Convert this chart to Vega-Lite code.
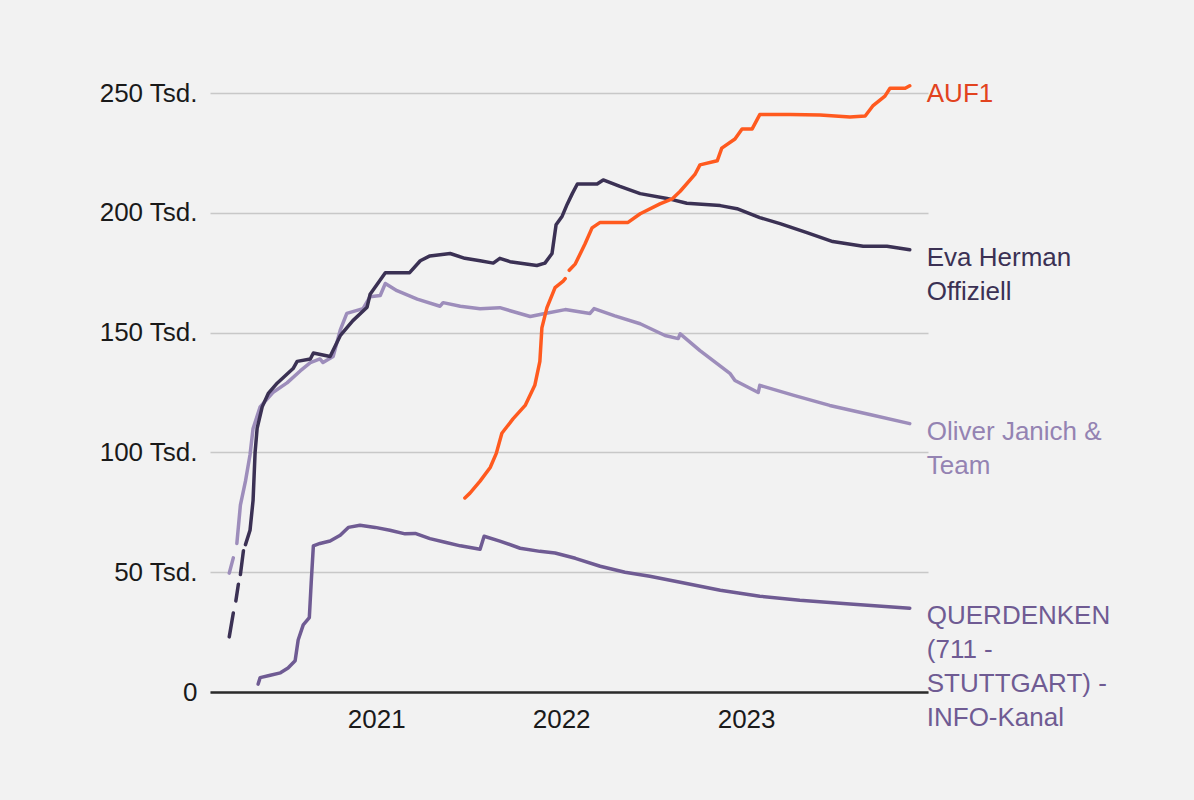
{
  "$schema": "https://vega.github.io/schema/vega-lite/v6.json",
  "width": 718,
  "height": 599,
  "autosize": {"type": "none"},
  "padding": {"left": 210, "top": 93, "right": 266, "bottom": 108},
  "background": "#f2f2f2",
  "config": {"view": {"stroke": null}, "font": "Liberation Sans"},
  "datasets": {
    "labels": [
      {"channel": "AUF1", "label": "AUF1"},
      {"channel": "Eva Herman Offiziell", "label": "Eva Herman\nOffiziell"},
      {"channel": "Oliver Janich & Team", "label": "Oliver Janich &\nTeam"},
      {"channel": "QUERDENKEN (711 - STUTTGART) - INFO-Kanal", "label": "QUERDENKEN\n(711 -\nSTUTTGART) -\nINFO-Kanal"}
    ]
  },
  "data": {
    "format": {"parse": {"date": "date"}},
    "values": [
      {"channel": "QUERDENKEN (711 - STUTTGART) - INFO-Kanal", "date": "2020-05-13", "value": 3300},
      {"channel": "QUERDENKEN (711 - STUTTGART) - INFO-Kanal", "date": "2020-05-17", "value": 6000},
      {"channel": "QUERDENKEN (711 - STUTTGART) - INFO-Kanal", "date": "2020-06-06", "value": 7000},
      {"channel": "QUERDENKEN (711 - STUTTGART) - INFO-Kanal", "date": "2020-06-26", "value": 8000},
      {"channel": "QUERDENKEN (711 - STUTTGART) - INFO-Kanal", "date": "2020-07-11", "value": 10000},
      {"channel": "QUERDENKEN (711 - STUTTGART) - INFO-Kanal", "date": "2020-07-25", "value": 13000},
      {"channel": "QUERDENKEN (711 - STUTTGART) - INFO-Kanal", "date": "2020-07-31", "value": 21700},
      {"channel": "QUERDENKEN (711 - STUTTGART) - INFO-Kanal", "date": "2020-08-10", "value": 28000},
      {"channel": "QUERDENKEN (711 - STUTTGART) - INFO-Kanal", "date": "2020-08-22", "value": 31000},
      {"channel": "QUERDENKEN (711 - STUTTGART) - INFO-Kanal", "date": "2020-08-26", "value": 46700},
      {"channel": "QUERDENKEN (711 - STUTTGART) - INFO-Kanal", "date": "2020-08-30", "value": 61000},
      {"channel": "QUERDENKEN (711 - STUTTGART) - INFO-Kanal", "date": "2020-09-12", "value": 62000},
      {"channel": "QUERDENKEN (711 - STUTTGART) - INFO-Kanal", "date": "2020-10-02", "value": 63000},
      {"channel": "QUERDENKEN (711 - STUTTGART) - INFO-Kanal", "date": "2020-10-22", "value": 65400},
      {"channel": "QUERDENKEN (711 - STUTTGART) - INFO-Kanal", "date": "2020-11-07", "value": 68700},
      {"channel": "QUERDENKEN (711 - STUTTGART) - INFO-Kanal", "date": "2020-11-30", "value": 69600},
      {"channel": "QUERDENKEN (711 - STUTTGART) - INFO-Kanal", "date": "2020-12-30", "value": 68700},
      {"channel": "QUERDENKEN (711 - STUTTGART) - INFO-Kanal", "date": "2021-01-28", "value": 67500},
      {"channel": "QUERDENKEN (711 - STUTTGART) - INFO-Kanal", "date": "2021-02-27", "value": 66000},
      {"channel": "QUERDENKEN (711 - STUTTGART) - INFO-Kanal", "date": "2021-03-19", "value": 66200},
      {"channel": "QUERDENKEN (711 - STUTTGART) - INFO-Kanal", "date": "2021-04-17", "value": 64000},
      {"channel": "QUERDENKEN (711 - STUTTGART) - INFO-Kanal", "date": "2021-05-17", "value": 62500},
      {"channel": "QUERDENKEN (711 - STUTTGART) - INFO-Kanal", "date": "2021-06-16", "value": 61000},
      {"channel": "QUERDENKEN (711 - STUTTGART) - INFO-Kanal", "date": "2021-07-25", "value": 59600},
      {"channel": "QUERDENKEN (711 - STUTTGART) - INFO-Kanal", "date": "2021-08-02", "value": 65000},
      {"channel": "QUERDENKEN (711 - STUTTGART) - INFO-Kanal", "date": "2021-09-02", "value": 63000},
      {"channel": "QUERDENKEN (711 - STUTTGART) - INFO-Kanal", "date": "2021-10-12", "value": 60000},
      {"channel": "QUERDENKEN (711 - STUTTGART) - INFO-Kanal", "date": "2021-11-20", "value": 58700},
      {"channel": "QUERDENKEN (711 - STUTTGART) - INFO-Kanal", "date": "2021-12-20", "value": 58000},
      {"channel": "QUERDENKEN (711 - STUTTGART) - INFO-Kanal", "date": "2022-01-29", "value": 55800},
      {"channel": "QUERDENKEN (711 - STUTTGART) - INFO-Kanal", "date": "2022-03-19", "value": 52500},
      {"channel": "QUERDENKEN (711 - STUTTGART) - INFO-Kanal", "date": "2022-05-07", "value": 50000},
      {"channel": "QUERDENKEN (711 - STUTTGART) - INFO-Kanal", "date": "2022-06-25", "value": 48300},
      {"channel": "QUERDENKEN (711 - STUTTGART) - INFO-Kanal", "date": "2022-08-24", "value": 45800},
      {"channel": "QUERDENKEN (711 - STUTTGART) - INFO-Kanal", "date": "2022-11-11", "value": 42500},
      {"channel": "QUERDENKEN (711 - STUTTGART) - INFO-Kanal", "date": "2023-01-28", "value": 40000},
      {"channel": "QUERDENKEN (711 - STUTTGART) - INFO-Kanal", "date": "2023-04-17", "value": 38300},
      {"channel": "QUERDENKEN (711 - STUTTGART) - INFO-Kanal", "date": "2023-07-25", "value": 36700},
      {"channel": "QUERDENKEN (711 - STUTTGART) - INFO-Kanal", "date": "2023-11-20", "value": 35000},

      {"channel": "Oliver Janich & Team", "date": "2020-03-17", "value": 49600},
      {"channel": "Oliver Janich & Team", "date": "2020-03-25", "value": 56000},
      {"channel": "Oliver Janich & Team", "date": "2020-03-28", "value": null},
      {"channel": "Oliver Janich & Team", "date": "2020-04-01", "value": 62000},
      {"channel": "Oliver Janich & Team", "date": "2020-04-08", "value": 78000},
      {"channel": "Oliver Janich & Team", "date": "2020-04-18", "value": 88000},
      {"channel": "Oliver Janich & Team", "date": "2020-04-27", "value": 99000},
      {"channel": "Oliver Janich & Team", "date": "2020-05-03", "value": 110000},
      {"channel": "Oliver Janich & Team", "date": "2020-05-17", "value": 119000},
      {"channel": "Oliver Janich & Team", "date": "2020-06-11", "value": 125000},
      {"channel": "Oliver Janich & Team", "date": "2020-07-09", "value": 129000},
      {"channel": "Oliver Janich & Team", "date": "2020-08-04", "value": 134000},
      {"channel": "Oliver Janich & Team", "date": "2020-08-24", "value": 137500},
      {"channel": "Oliver Janich & Team", "date": "2020-09-12", "value": 139000},
      {"channel": "Oliver Janich & Team", "date": "2020-09-18", "value": 137500},
      {"channel": "Oliver Janich & Team", "date": "2020-10-08", "value": 140000},
      {"channel": "Oliver Janich & Team", "date": "2020-10-22", "value": 151000},
      {"channel": "Oliver Janich & Team", "date": "2020-11-04", "value": 158000},
      {"channel": "Oliver Janich & Team", "date": "2020-12-06", "value": 160000},
      {"channel": "Oliver Janich & Team", "date": "2020-12-20", "value": 165000},
      {"channel": "Oliver Janich & Team", "date": "2021-01-09", "value": 165500},
      {"channel": "Oliver Janich & Team", "date": "2021-01-19", "value": 170500},
      {"channel": "Oliver Janich & Team", "date": "2021-02-11", "value": 167500},
      {"channel": "Oliver Janich & Team", "date": "2021-03-23", "value": 164000},
      {"channel": "Oliver Janich & Team", "date": "2021-05-07", "value": 161000},
      {"channel": "Oliver Janich & Team", "date": "2021-05-13", "value": 162500},
      {"channel": "Oliver Janich & Team", "date": "2021-06-16", "value": 161000},
      {"channel": "Oliver Janich & Team", "date": "2021-07-25", "value": 160000},
      {"channel": "Oliver Janich & Team", "date": "2021-09-02", "value": 160400},
      {"channel": "Oliver Janich & Team", "date": "2021-11-01", "value": 156700},
      {"channel": "Oliver Janich & Team", "date": "2021-11-30", "value": 158000},
      {"channel": "Oliver Janich & Team", "date": "2022-01-09", "value": 159600},
      {"channel": "Oliver Janich & Team", "date": "2022-02-27", "value": 158000},
      {"channel": "Oliver Janich & Team", "date": "2022-03-07", "value": 160000},
      {"channel": "Oliver Janich & Team", "date": "2022-04-17", "value": 157000},
      {"channel": "Oliver Janich & Team", "date": "2022-06-06", "value": 153700},
      {"channel": "Oliver Janich & Team", "date": "2022-07-25", "value": 148800},
      {"channel": "Oliver Janich & Team", "date": "2022-08-20", "value": 147500},
      {"channel": "Oliver Janich & Team", "date": "2022-08-24", "value": 149500},
      {"channel": "Oliver Janich & Team", "date": "2022-10-02", "value": 142500},
      {"channel": "Oliver Janich & Team", "date": "2022-11-30", "value": 133000},
      {"channel": "Oliver Janich & Team", "date": "2022-12-10", "value": 130000},
      {"channel": "Oliver Janich & Team", "date": "2023-01-25", "value": 125000},
      {"channel": "Oliver Janich & Team", "date": "2023-01-28", "value": 128000},
      {"channel": "Oliver Janich & Team", "date": "2023-04-07", "value": 123700},
      {"channel": "Oliver Janich & Team", "date": "2023-06-15", "value": 119600},
      {"channel": "Oliver Janich & Team", "date": "2023-09-02", "value": 115800},
      {"channel": "Oliver Janich & Team", "date": "2023-11-20", "value": 112000},

      {"channel": "Eva Herman Offiziell", "date": "2020-03-17", "value": 23000},
      {"channel": "Eva Herman Offiziell", "date": "2020-03-25", "value": 33000},
      {"channel": "Eva Herman Offiziell", "date": "2020-03-27", "value": null},
      {"channel": "Eva Herman Offiziell", "date": "2020-03-30", "value": 38000},
      {"channel": "Eva Herman Offiziell", "date": "2020-04-04", "value": 45000},
      {"channel": "Eva Herman Offiziell", "date": "2020-04-06", "value": null},
      {"channel": "Eva Herman Offiziell", "date": "2020-04-08", "value": 49000},
      {"channel": "Eva Herman Offiziell", "date": "2020-04-14", "value": 59000},
      {"channel": "Eva Herman Offiziell", "date": "2020-04-16", "value": null},
      {"channel": "Eva Herman Offiziell", "date": "2020-04-18", "value": 61500},
      {"channel": "Eva Herman Offiziell", "date": "2020-04-27", "value": 67500},
      {"channel": "Eva Herman Offiziell", "date": "2020-05-03", "value": 80000},
      {"channel": "Eva Herman Offiziell", "date": "2020-05-07", "value": 100000},
      {"channel": "Eva Herman Offiziell", "date": "2020-05-11", "value": 110000},
      {"channel": "Eva Herman Offiziell", "date": "2020-05-21", "value": 119000},
      {"channel": "Eva Herman Offiziell", "date": "2020-06-02", "value": 124600},
      {"channel": "Eva Herman Offiziell", "date": "2020-06-20", "value": 129000},
      {"channel": "Eva Herman Offiziell", "date": "2020-07-21", "value": 135000},
      {"channel": "Eva Herman Offiziell", "date": "2020-07-29", "value": 138000},
      {"channel": "Eva Herman Offiziell", "date": "2020-08-24", "value": 139000},
      {"channel": "Eva Herman Offiziell", "date": "2020-08-30", "value": 141500},
      {"channel": "Eva Herman Offiziell", "date": "2020-10-02", "value": 140000},
      {"channel": "Eva Herman Offiziell", "date": "2020-10-22", "value": 148700},
      {"channel": "Eva Herman Offiziell", "date": "2020-11-16", "value": 155000},
      {"channel": "Eva Herman Offiziell", "date": "2020-12-14", "value": 160600},
      {"channel": "Eva Herman Offiziell", "date": "2020-12-20", "value": 166000},
      {"channel": "Eva Herman Offiziell", "date": "2021-01-19", "value": 175000},
      {"channel": "Eva Herman Offiziell", "date": "2021-03-08", "value": 175000},
      {"channel": "Eva Herman Offiziell", "date": "2021-03-29", "value": 180000},
      {"channel": "Eva Herman Offiziell", "date": "2021-04-17", "value": 182000},
      {"channel": "Eva Herman Offiziell", "date": "2021-05-27", "value": 183000},
      {"channel": "Eva Herman Offiziell", "date": "2021-06-25", "value": 181000},
      {"channel": "Eva Herman Offiziell", "date": "2021-07-25", "value": 180000},
      {"channel": "Eva Herman Offiziell", "date": "2021-08-20", "value": 179000},
      {"channel": "Eva Herman Offiziell", "date": "2021-09-02", "value": 181000},
      {"channel": "Eva Herman Offiziell", "date": "2021-09-22", "value": 179600},
      {"channel": "Eva Herman Offiziell", "date": "2021-11-14", "value": 178000},
      {"channel": "Eva Herman Offiziell", "date": "2021-11-30", "value": 179000},
      {"channel": "Eva Herman Offiziell", "date": "2021-12-14", "value": 183000},
      {"channel": "Eva Herman Offiziell", "date": "2021-12-22", "value": 195000},
      {"channel": "Eva Herman Offiziell", "date": "2022-01-03", "value": 198600},
      {"channel": "Eva Herman Offiziell", "date": "2022-01-13", "value": 203600},
      {"channel": "Eva Herman Offiziell", "date": "2022-01-23", "value": 208000},
      {"channel": "Eva Herman Offiziell", "date": "2022-02-02", "value": 212000},
      {"channel": "Eva Herman Offiziell", "date": "2022-03-13", "value": 212000},
      {"channel": "Eva Herman Offiziell", "date": "2022-03-25", "value": 213700},
      {"channel": "Eva Herman Offiziell", "date": "2022-04-27", "value": 211000},
      {"channel": "Eva Herman Offiziell", "date": "2022-06-06", "value": 208000},
      {"channel": "Eva Herman Offiziell", "date": "2022-07-29", "value": 206000},
      {"channel": "Eva Herman Offiziell", "date": "2022-09-06", "value": 204000},
      {"channel": "Eva Herman Offiziell", "date": "2022-11-11", "value": 203000},
      {"channel": "Eva Herman Offiziell", "date": "2022-12-14", "value": 201700},
      {"channel": "Eva Herman Offiziell", "date": "2023-01-28", "value": 198000},
      {"channel": "Eva Herman Offiziell", "date": "2023-03-09", "value": 195500},
      {"channel": "Eva Herman Offiziell", "date": "2023-05-01", "value": 191700},
      {"channel": "Eva Herman Offiziell", "date": "2023-06-21", "value": 188000},
      {"channel": "Eva Herman Offiziell", "date": "2023-08-20", "value": 186000},
      {"channel": "Eva Herman Offiziell", "date": "2023-10-06", "value": 186000},
      {"channel": "Eva Herman Offiziell", "date": "2023-11-20", "value": 184600},

      {"channel": "AUF1", "date": "2021-06-25", "value": 81000},
      {"channel": "AUF1", "date": "2021-07-05", "value": 83000},
      {"channel": "AUF1", "date": "2021-07-25", "value": 88000},
      {"channel": "AUF1", "date": "2021-08-14", "value": 93700},
      {"channel": "AUF1", "date": "2021-08-26", "value": 99600},
      {"channel": "AUF1", "date": "2021-09-06", "value": 108000},
      {"channel": "AUF1", "date": "2021-09-28", "value": 114000},
      {"channel": "AUF1", "date": "2021-10-22", "value": 119600},
      {"channel": "AUF1", "date": "2021-11-10", "value": 128000},
      {"channel": "AUF1", "date": "2021-11-20", "value": 138000},
      {"channel": "AUF1", "date": "2021-11-24", "value": 152000},
      {"channel": "AUF1", "date": "2021-12-04", "value": 160400},
      {"channel": "AUF1", "date": "2021-12-20", "value": 168800},
      {"channel": "AUF1", "date": "2022-01-05", "value": 171500},
      {"channel": "AUF1", "date": "2022-01-09", "value": 172500},
      {"channel": "AUF1", "date": "2022-01-12", "value": null},
      {"channel": "AUF1", "date": "2022-01-17", "value": 176000},
      {"channel": "AUF1", "date": "2022-01-29", "value": 178700},
      {"channel": "AUF1", "date": "2022-02-17", "value": 187000},
      {"channel": "AUF1", "date": "2022-03-03", "value": 193700},
      {"channel": "AUF1", "date": "2022-03-19", "value": 196000},
      {"channel": "AUF1", "date": "2022-05-13", "value": 196000},
      {"channel": "AUF1", "date": "2022-06-06", "value": 199600},
      {"channel": "AUF1", "date": "2022-07-15", "value": 203700},
      {"channel": "AUF1", "date": "2022-08-08", "value": 205800},
      {"channel": "AUF1", "date": "2022-08-24", "value": 209000},
      {"channel": "AUF1", "date": "2022-09-22", "value": 216000},
      {"channel": "AUF1", "date": "2022-10-02", "value": 220000},
      {"channel": "AUF1", "date": "2022-11-05", "value": 221700},
      {"channel": "AUF1", "date": "2022-11-14", "value": 227000},
      {"channel": "AUF1", "date": "2022-12-10", "value": 230800},
      {"channel": "AUF1", "date": "2022-12-24", "value": 235000},
      {"channel": "AUF1", "date": "2023-01-13", "value": 235000},
      {"channel": "AUF1", "date": "2023-01-28", "value": 241000},
      {"channel": "AUF1", "date": "2023-03-29", "value": 241000},
      {"channel": "AUF1", "date": "2023-05-27", "value": 240800},
      {"channel": "AUF1", "date": "2023-07-25", "value": 240000},
      {"channel": "AUF1", "date": "2023-08-24", "value": 240400},
      {"channel": "AUF1", "date": "2023-09-08", "value": 244600},
      {"channel": "AUF1", "date": "2023-10-02", "value": 248700},
      {"channel": "AUF1", "date": "2023-10-12", "value": 252000},
      {"channel": "AUF1", "date": "2023-11-11", "value": 252000},
      {"channel": "AUF1", "date": "2023-11-20", "value": 253000}
    ]
  },
  "layer": [
    {
      "mark": {"type": "line", "strokeWidth": 3.5, "strokeJoin": "round", "strokeCap": "round"},
      "encoding": {
        "x": {
          "field": "date",
          "type": "temporal",
          "scale": {"domain": [{"year": 2020, "month": 2, "date": 8}, {"year": 2023, "month": 12, "date": 26}]},
          "axis": {
            "title": null,
            "format": "%Y",
            "tickCount": {"interval": "year", "step": 1},
            "ticks": false,
            "grid": false,
            "domainColor": "#2b2b2b",
            "domainWidth": 2.5,
            "labelFontSize": 26,
            "labelColor": "#1a1a1a",
            "labelPadding": 14
          }
        },
        "y": {
          "field": "value",
          "type": "quantitative",
          "scale": {"domain": [0, 250000], "nice": false},
          "axis": {
            "title": null,
            "values": [0, 50000, 100000, 150000, 200000, 250000],
            "labelExpr": "datum.value == 0 ? '0' : (datum.value / 1000) + ' Tsd.'",
            "ticks": false,
            "domain": false,
            "gridColor": "#c8c8c8",
            "gridWidth": 1.5,
            "labelFontSize": 26,
            "labelColor": "#1a1a1a",
            "labelPadding": 13
          }
        },
        "color": {
          "field": "channel",
          "type": "nominal",
          "legend": null,
          "scale": {
            "domain": ["AUF1", "Eva Herman Offiziell", "Oliver Janich & Team", "QUERDENKEN (711 - STUTTGART) - INFO-Kanal"],
            "range": ["#ff5a1f", "#3b3154", "#9d8dbb", "#6f5b93"]
          }
        }
      }
    },
    {
      "transform": [
        {"filter": "datum.value != null"},
        {"joinaggregate": [{"op": "max", "field": "date", "as": "last"}], "groupby": ["channel"]},
        {"filter": "time(datum.date) == time(datum.last)"},
        {"lookup": "channel", "from": {"data": {"name": "labels"}, "key": "channel", "fields": ["label"]}}
      ],
      "mark": {"type": "text", "align": "left", "baseline": "top", "dx": 17, "dy": -5, "fontSize": 26, "lineHeight": 34, "lineBreak": "\n"},
      "encoding": {
        "x": {"field": "date", "type": "temporal"},
        "y": {"field": "value", "type": "quantitative"},
        "text": {"field": "label", "type": "nominal"},
        "color": {
          "field": "channel",
          "type": "nominal",
          "legend": null,
          "scale": {
            "domain": ["AUF1", "Eva Herman Offiziell", "Oliver Janich & Team", "QUERDENKEN (711 - STUTTGART) - INFO-Kanal"],
            "range": ["#e2431f", "#3b3154", "#9483b2", "#6f5b93"]
          }
        }
      }
    }
  ],
  "resolve": {"scale": {"color": "independent"}}
}
